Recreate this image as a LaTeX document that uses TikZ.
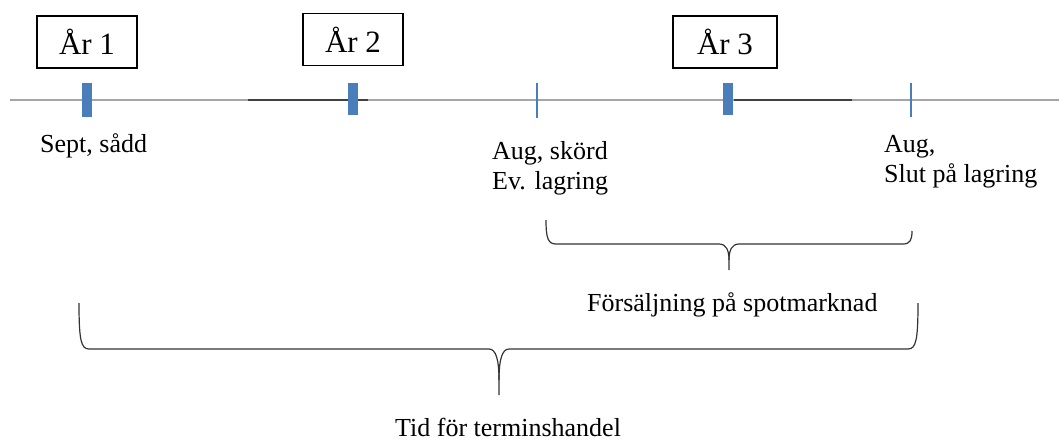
\documentclass[tikz,border=0pt]{standalone}
\usepackage{fontspec}
\setmainfont{Liberation Serif}
\definecolor{tickblue}{HTML}{4A7EBB}
\definecolor{axisgray}{HTML}{A6A6A6}
\definecolor{axisdark}{HTML}{404040}

\begin{document}
\begin{tikzpicture}[x=1pt,y=-1pt]
        \tikzstyle{every node}=[font=\fontsize{26}{30}\selectfont, inner sep=0pt]
        \tikzstyle{yearbox}=[draw, line width=1.2pt, minimum width=100pt, minimum height=52pt, font=\fontsize{31}{36}\selectfont]
        \tikzstyle{event}=[anchor=base west, align=left]
        \tikzstyle{bigtick}=[tickblue, line width=10pt]
        \tikzstyle{thintick}=[tickblue, line width=1.5pt]
        \tikzstyle{axis}=[axisgray, line width=2pt]
        \tikzstyle{brace}=[black!80, line width=1.2pt]

        \useasboundingbox (0,0) rectangle (1059,442);

        \node[yearbox] (year1) at (87,42) {År 1};
        \node[yearbox] (year2) at (353,39.5) {År 2};
        \node[yearbox, minimum width=104pt] (year3) at (725,42) {År 3};

        \coordinate (start) at (10,100);
        \coordinate (end) at (1059,100);
        \draw[axis] (start) -- (end);
        \draw[axis, axisdark] (248,100) -- (368,100);
        \draw[axis, axisdark] (734,100) -- (852,100);

        \draw[bigtick] (87,83) -- (87,117);
        \draw[bigtick] (352.5,83) -- (352.5,115);
        \draw[bigtick] (728,83) -- (728,115);
        \draw[thintick] (537,83) -- (537,118);
        \draw[thintick] (911,83) -- (911,117);

        \node[event] (sow) at (40,152) {Sept, sådd};
        \node[event] (harvest) at (492,189) {Aug, skörd\\Ev. lagring};
        \node[event] (storeend) at (884,182) {Aug,\\Slut på lagring};

        \draw[brace] (546,220) .. controls (546,238) and (548,244) .. (556,244) -- (719,244)
            .. controls (726,244) and (729,250) .. (729,260) -- (729,270);
        \draw[brace] (729,260) .. controls (729,250) and (732,244) .. (739,244) -- (903,244)
            .. controls (910,244) and (912,240) .. (912,231);
        \node[event] (spot) at (587,311) {Försäljning på spotmarknad};

        \draw[brace] (79,303) .. controls (79,340) and (81,349) .. (89,349) -- (489,349)
            .. controls (496,349) and (499,360) .. (499,380) -- (499,395);
        \draw[brace] (499,380) .. controls (499,360) and (502,349) .. (509,349) -- (908,349)
            .. controls (916,349) and (918,340) .. (918,303);
        \node[event] (futures) at (395,436) {Tid för terminshandel};
    \end{tikzpicture}
\end{document}
